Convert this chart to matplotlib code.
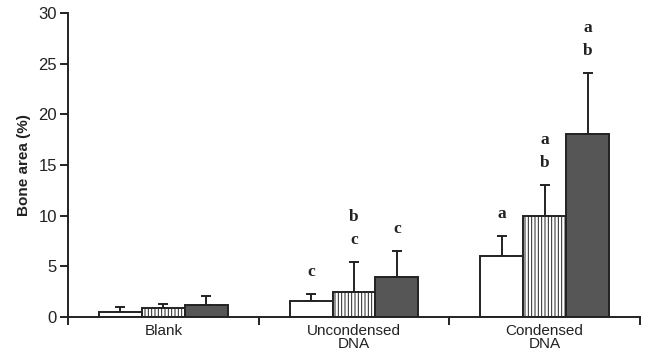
import matplotlib
matplotlib.use("Agg")
import matplotlib.pyplot as plt
import numpy as np

plt.rcParams['hatch.linewidth'] = 0.7
plt.rcParams['hatch.color'] = '#333333'

categories = ["Blank", "Uncondensed\nDNA", "Condensed\nDNA"]
white_vals = [0.5, 1.55, 6.0]
white_err = [0.5, 0.7, 2.0]
hatched_vals = [0.85, 2.5, 10.0]
hatched_err = [0.45, 2.95, 3.0]
dark_vals = [1.2, 3.95, 18.1]
dark_err = [0.9, 2.55, 6.0]
white_letters = [[], ["c"], ["a"]]
hatched_letters = [[], ["c", "b"], ["b", "a"]]
dark_letters = [[], ["c"], ["b", "a"]]

fig = plt.figure(figsize=(6.5, 3.55), dpi=100)
ax = fig.add_axes([0.1046, 0.107, 0.88, 0.856])

x = np.arange(len(categories))
w = 0.225
series = [
    (white_vals, white_err, white_letters, dict(facecolor="white", hatch=None)),
    (hatched_vals, hatched_err, hatched_letters, dict(facecolor="white", hatch="|||||")),
    (dark_vals, dark_err, dark_letters, dict(facecolor="#565656", hatch=None)),
]
for i, (vals, errs, letters, style) in enumerate(series):
    pos = x + (i - 1) * w
    ax.bar(pos, vals, width=w, edgecolor="#222222", linewidth=1.4, zorder=2, **style)
    ax.errorbar(pos, vals, yerr=[np.zeros(len(vals)), errs], fmt="none",
                ecolor="#222222", elinewidth=1.4, capsize=3.5, capthick=1.4, zorder=1)
    for p, v, e, labs in zip(pos, vals, errs, letters):
        for k, lab in enumerate(labs):
            ax.text(p, v + e + 2.2 + 2.25 * k, lab, ha="center", va="center",
                    fontsize=12.5, fontweight="bold", family="Liberation Serif",
                    color="#222222")

ax.set_xlim(-0.5, 2.5)
ax.set_ylim(0, 30)
ax.set_yticks([0, 5, 10, 15, 20, 25, 30])
ax.set_xticks([-0.5, 0.5, 1.5, 2.5])
ax.set_xticklabels([])
ax.set_xticks(x, minor=True)
ax.set_xticklabels(categories, minor=True, fontsize=11, family="Liberation Sans",
                   linespacing=0.95, color="#222222")
ax.tick_params(axis="x", which="minor", length=0, pad=5)
ax.tick_params(axis="x", which="major", length=6, width=1.4, direction="out", color="#222222")
ax.tick_params(axis="y", length=6, width=1.4, direction="out", labelsize=12, color="#222222",
               labelcolor="#222222", pad=2)
for t in ax.get_yticklabels():
    t.set_family("Liberation Sans")
ax.set_ylabel("Bone area (%)", fontsize=11, fontweight="bold", family="Liberation Sans",
              labelpad=5, color="#222222")
for s in ["top", "right"]:
    ax.spines[s].set_visible(False)
for s in ["left", "bottom"]:
    ax.spines[s].set_linewidth(1.4)
    ax.spines[s].set_color("#222222")

fig.savefig("out.png", dpi=100)
